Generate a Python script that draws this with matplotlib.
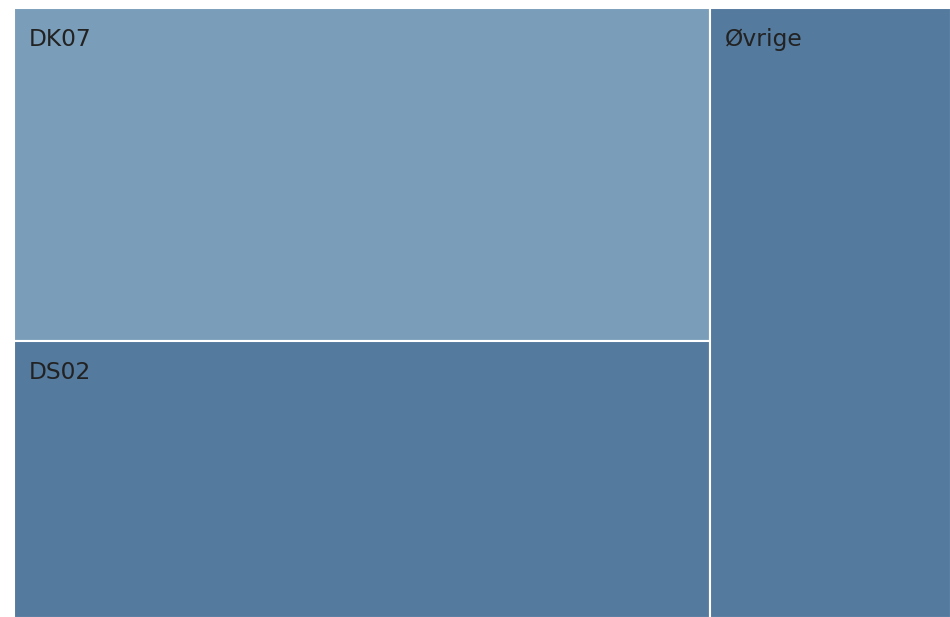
import matplotlib
matplotlib.use("Agg")
import matplotlib.pyplot as plt
from matplotlib.patches import Rectangle

labels = ["DK07", "DS02", "Øvrige"]
values = [40.6, 33.7, 25.7]
colors = ["#7a9db9", "#547a9e", "#547a9e"]

FW, FH = 950, 617
x0, y0, x1, y1 = 14, 8, 951, 618  # pixel extents incl. half edge
W, H = x1 - x0, y1 - y0

fig = plt.figure(figsize=(9.5, 6.17), dpi=100)
ax = fig.add_axes([x0/FW, (FH - y1)/FH, W/FW, H/FH])
ax.set_xlim(0, 1)
ax.set_ylim(0, 1)
ax.axis("off")

total = sum(values)
left_w = (values[0] + values[1]) / total
top_h = values[0] / (values[0] + values[1])

rects = [
    (0, 1 - top_h, left_w, top_h),
    (0, 0, left_w, 1 - top_h),
    (left_w, 0, 1 - left_w, 1),
]
for (x, y, w, h), lab, c in zip(rects, labels, colors):
    ax.add_patch(Rectangle((x, y), w, h, facecolor=c, edgecolor="white", linewidth=1.5))
    ax.text(x + 15/W, y + h - 20/H, lab, ha="left", va="top", fontsize=16.8,
            color="#222222", family="DejaVu Sans")

fig.savefig("out.png", dpi=100)
